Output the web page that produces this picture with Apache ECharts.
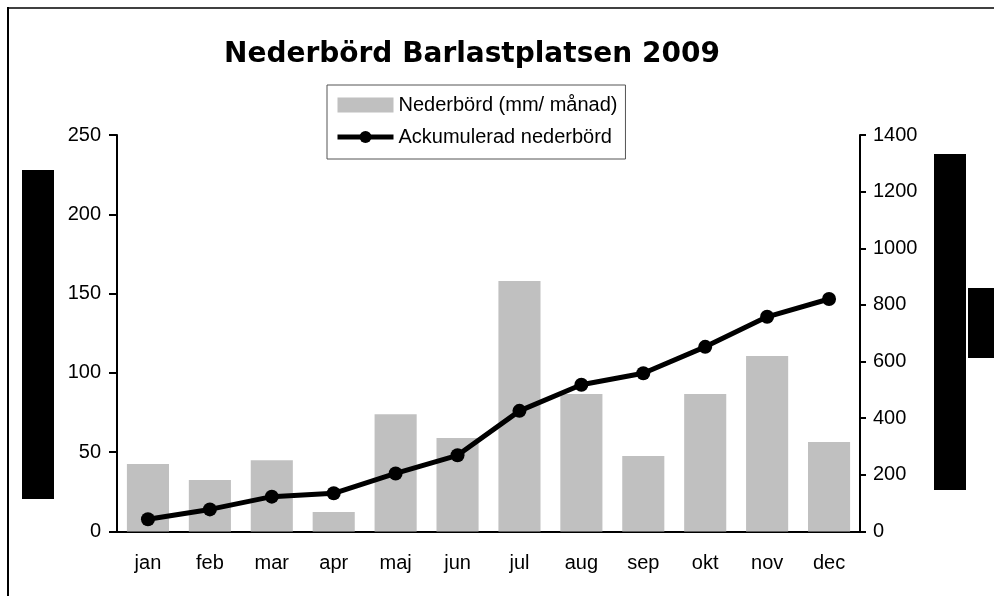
<!DOCTYPE html>
<html>
<head>
<meta charset="utf-8">
<title>Nederbörd Barlastplatsen 2009</title>
<script src="https://cdn.jsdelivr.net/npm/echarts@6/dist/echarts.min.js"></script>
<style>
  * { margin: 0; padding: 0; }
  html, body { background: #fff; }
  #main { width: 994px; height: 596px; }
</style>
</head>
<body>
<div id="main"></div>
<script>
// månader
const months = ["jan", "feb", "mar", "apr", "maj", "jun", "jul", "aug", "sep", "okt", "nov", "dec"];
// nederbörd per månad (mm), avläst
const monthly = [42.6, 32.5, 45, 12.3, 74, 59, 158, 86.7, 47.6, 86.7, 110.7, 56.4];
// ackumulerad nederbörd (mm), avläst
const accumulated = [43, 78, 123, 135, 205, 269, 426, 518, 559, 652, 758, 821];
// axlar
const leftMax = 250, leftStep = 50;
const rightMax = 1400, rightStep = 200;

const font = "'Liberation Sans', Arial, sans-serif";
const chart = echarts.init(document.getElementById("main"));

chart.setOption({
  animation: false,
  backgroundColor: "#fff",
  title: {
    text: "Nederbörd Barlastplatsen 2009",
    left: 224,
    top: 41,
    padding: 0,
    textStyle: {
      fontFamily: "'DejaVu Sans', sans-serif",
      fontWeight: "bold",
      fontSize: 28,
      color: "#000"
    }
  },
  legend: {
    orient: "vertical",
    left: 327,
    top: 85,
    padding: [10, 8, 12, 8],
    itemGap: 12,
    itemWidth: 56,
    itemHeight: 15,
    borderColor: "#555",
    borderWidth: 1,
    lineStyle: { width: 5 },
    textStyle: { fontFamily: font, fontSize: 20, color: "#000", lineHeight: 20 },
    data: [
      { name: "Nederbörd (mm/ månad)", icon: "rect" },
      { name: "Ackumulerad nederbörd" }
    ]
  },
  grid: {
    left: 117,
    right: 134,
    top: 135,
    bottom: 64.5,
    containLabel: false
  },
  xAxis: {
    type: "category",
    data: months,
    boundaryGap: true,
    axisLine: { lineStyle: { color: "#000", width: 2 } },
    axisTick: { length: 8, lineStyle: { color: "#000", width: 2 } },
    axisLabel: { fontFamily: font, fontSize: 20, color: "#000", margin: 22 }
  },
  yAxis: [
    {
      type: "value",
      min: 0,
      max: leftMax,
      interval: leftStep,
      position: "left",
      splitLine: { show: false },
      axisLine: { show: true, lineStyle: { color: "#000", width: 2 } },
      axisTick: { show: true, length: 8, lineStyle: { color: "#000", width: 2 } },
      axisLabel: { fontFamily: font, fontSize: 20, color: "#000", margin: 16 }
    },
    {
      type: "value",
      min: 0,
      max: rightMax,
      interval: rightStep,
      position: "right",
      splitLine: { show: false },
      axisLine: { show: true, lineStyle: { color: "#000", width: 2 } },
      axisTick: { show: true, length: 6, lineStyle: { color: "#000", width: 2 } },
      axisLabel: {
        fontFamily: font, fontSize: 20, color: "#000", margin: 13,
        formatter: v => String(v)
      }
    }
  ],
  series: [
    {
      name: "Nederbörd (mm/ månad)",
      type: "bar",
      yAxisIndex: 0,
      barCategoryGap: "32%",
      itemStyle: { color: "#c0c0c0" },
      data: monthly
    },
    {
      name: "Ackumulerad nederbörd",
      type: "line",
      yAxisIndex: 1,
      symbol: "circle",
      symbolSize: 14,
      z: 5,
      lineStyle: { color: "#000", width: 5 },
      itemStyle: { color: "#000" },
      data: accumulated
    }
  ],
  graphic: [
    // ram
    { type: "line", shape: { x1: 7, y1: 8, x2: 994, y2: 8 }, style: { stroke: "#404040", lineWidth: 2 } },
    { type: "line", shape: { x1: 8, y1: 7, x2: 8, y2: 596 }, style: { stroke: "#000", lineWidth: 2 } },
    // överstrukna axeltitlar
    { type: "rect", shape: { x: 22, y: 170, width: 32, height: 329 }, style: { fill: "#000" } },
    { type: "rect", shape: { x: 934, y: 154, width: 32, height: 336 }, style: { fill: "#000" } },
    { type: "rect", shape: { x: 968, y: 288, width: 26, height: 70 }, style: { fill: "#000" } }
  ]
});
</script>
</body>
</html>
